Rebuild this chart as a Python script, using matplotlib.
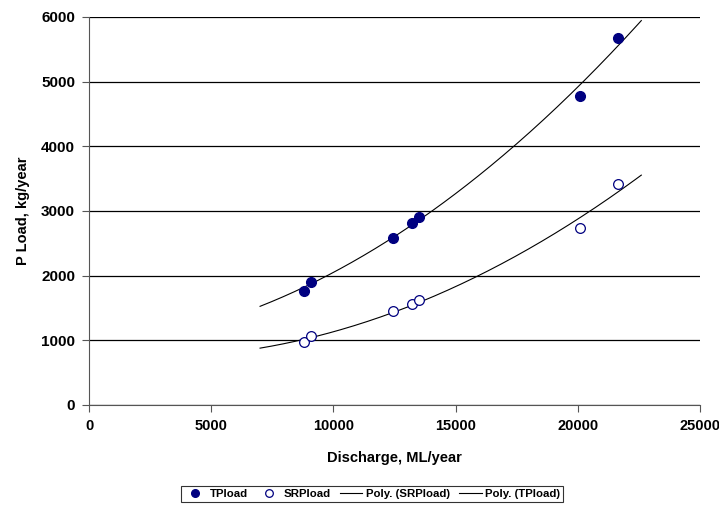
import matplotlib

matplotlib.use("Agg")
import matplotlib.pyplot as plt  # noqa: E402
import numpy as np  # noqa: E402

# Discharge (ML/year) and loads (kg/year)
discharge = [8800, 9100, 12450, 13200, 13500, 20100, 21650]
tp_load = [1770, 1900, 2590, 2820, 2900, 4780, 5680]
srp_load = [970, 1060, 1450, 1560, 1620, 2740, 3410]
trend_range = [7000, 22600]

plt.rcParams["font.family"] = ["Liberation Sans", "DejaVu Sans"]
plt.rcParams["font.weight"] = "bold"

fig = plt.figure(figsize=(7.19, 5.07), dpi=100)
ax = fig.add_axes([0.1238, 0.2012, 0.8497, 0.7653])

xs = np.linspace(trend_range[0], trend_range[1], 200)
tp_fit = np.polyval(np.polyfit(discharge, tp_load, 2), xs)
srp_fit = np.polyval(np.polyfit(discharge, srp_load, 2), xs)

h_tp, = ax.plot(discharge, tp_load, "o", color="#000080", ms=7, ls="none", zorder=4)
h_srp, = ax.plot(discharge, srp_load, "o", mfc="white", mec="#000080", mew=0.9,
                 ms=7, ls="none", zorder=4)
h_fs, = ax.plot(xs, srp_fit, color="black", lw=0.8, zorder=3)
h_ft, = ax.plot(xs, tp_fit, color="black", lw=0.8, zorder=3)

ax.set_xlim(0, 25000)
ax.set_ylim(0, 6000)
ax.set_xticks(range(0, 25001, 5000))
ax.set_yticks(range(0, 6001, 1000))
ax.yaxis.grid(True, color="black", lw=0.9)
ax.set_axisbelow(True)
for side in ("top", "right"):
    ax.spines[side].set_visible(False)
for side in ("left", "bottom"):
    ax.spines[side].set_color("#555555")
ax.tick_params(length=5, color="#555555", pad=5)
ax.tick_params(axis="y", labelsize=11)
ax.tick_params(axis="x", labelsize=10.5)
for lbl in ax.get_xticklabels() + ax.get_yticklabels():
    lbl.set_fontweight("bold")

ax.set_xlabel("Discharge, ML/year", fontsize=10.5, fontweight="bold", labelpad=13)
ax.set_ylabel("P Load, kg/year", fontsize=10.5, fontweight="bold", labelpad=8)

leg = fig.legend([h_tp, h_srp, h_fs, h_ft],
                 ["TPload", "SRPload", "Poly. (SRPload)", "Poly. (TPload)"],
                 loc="center", bbox_to_anchor=(0.5174, 0.026), ncol=4,
                 frameon=True, fancybox=False, handlelength=2.0,
                 columnspacing=0.8, handletextpad=0.3, borderpad=0.25,
                 prop={"weight": "bold", "size": 8.2})
leg.get_frame().set_edgecolor("black")
leg.get_frame().set_linewidth(0.8)
for h in leg.legend_handles[:2]:
    h.set_markersize(5.5)

fig.savefig("out.png", dpi=100)
